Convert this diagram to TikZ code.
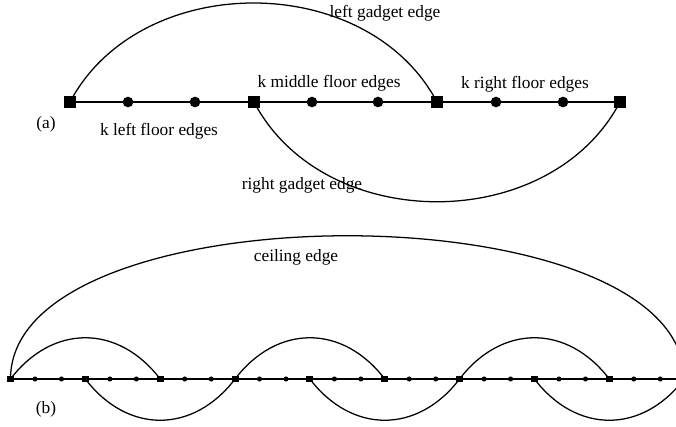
\documentclass[tikz,border=0pt]{standalone}
\usepackage{fontspec}
\setmainfont{Liberation Serif}
\begin{document}
\begin{tikzpicture}[x=0.75pt,y=-0.75pt,
  sqa/.style={rectangle,fill=black,minimum size=9pt,inner sep=0pt},
  dota/.style={circle,fill=black,minimum width=7.5pt,minimum height=8pt,inner sep=0pt},
  sqb/.style={rectangle,fill=black,minimum size=5.2pt,inner sep=0pt},
  dotb/.style={circle,fill=black,minimum size=3.8pt,inner sep=0pt},
  floora/.style={line width=1.8pt},
  floorb/.style={line width=1.5pt},
  arcedge/.style={line width=0.95pt},
  lbl/.style={font=\fontsize{13}{15}\selectfont,inner sep=0pt}]
\clip (0,0) rectangle (676,426);
% ---------- (a) ----------
\node[sqa] (a0) at (70,102) {};
\node[sqa] (a1) at (254,102) {};
\node[sqa] (a2) at (437,102) {};
\node[sqa] (a3) at (620,102) {};
\node[dota] (c1) at (128,102) {};
\node[dota] (c2) at (195,102) {};
\node[dota] (c3) at (312,102) {};
\node[dota] (c4) at (378,102) {};
\node[dota] (c5) at (496,102) {};
\node[dota] (c6) at (563,102) {};
\draw[floora] (a0.center) -- (a3.center);
\draw[arcedge] (a0.center) .. controls +(70,-132) and +(-70,-132) .. (a2.center);
\draw[arcedge] (a1.center) .. controls +(70,133) and +(-70,133) .. (a3.center);
\node[lbl] (la) at (385,13) {left gadget edge};
\node[lbl] (lm) at (329,83) {k middle floor edges};
\node[lbl] (lr) at (525,84) {k right floor edges};
\node[lbl] (ll) at (159,131) {k left floor edges};
\node[lbl] (pa) at (46,124) {(a)};
\node[lbl] (lg) at (302,185) {right gadget edge};
% ---------- (b) ----------
\foreach \i in {0,...,9}{
  \node[sqb] (s\i) at ({10.5+74.85*\i},379) {};
}
\foreach \i in {0,...,8}{
  \node[dotb] (p\i) at ({10.5+74.85*\i+24.5},379) {};
  \node[dotb] (q\i) at ({10.5+74.85*\i+51},379) {};
}
\draw[floorb] (s0.center) -- (s9.center);
\draw[arcedge] (s0.center) .. controls +(0,-191) and +(0,-191) .. (s9.center);
\foreach \a/\b in {0/2,3/5,6/8}{
  \draw[arcedge] (s\a.center) .. controls +(42,-55) and +(-42,-55) .. (s\b.center);
}
\foreach \a/\b in {1/3,4/6,7/9}{
  \draw[arcedge] (s\a.center) .. controls +(42,55) and +(-42,55) .. (s\b.center);
}
\node[lbl] (lc) at (296,257) {ceiling edge};
\node[lbl] (pb) at (46,409) {(b)};
\end{tikzpicture}
\end{document}
